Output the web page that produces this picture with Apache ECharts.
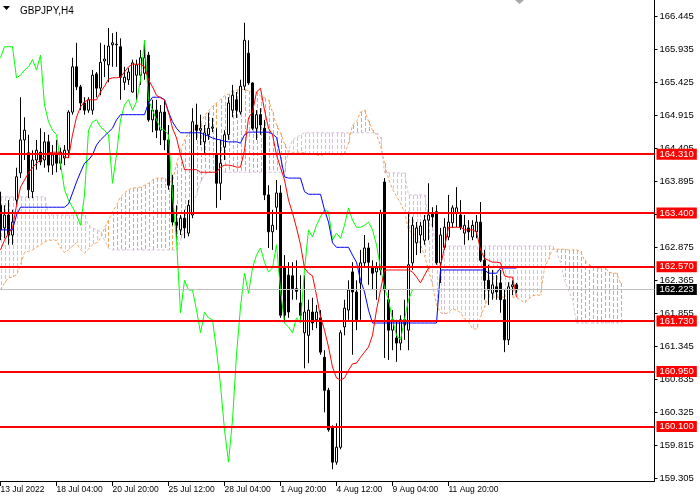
<!DOCTYPE html>
<html><head><meta charset="utf-8">
<script src="https://cdn.jsdelivr.net/npm/echarts@6/dist/echarts.min.js"></script>
<style>html,body{margin:0;padding:0;background:#fff}#c{width:700px;height:500px}</style>
</head><body><div id="c"></div>
<script>
const chartTitle = 'GBPJPY,H4';
const xLabelIdx = [0,14,28,42,56,70,84,98,112];
const xLabels = ['13 Jul 2022','18 Jul 04:00','20 Jul 20:00','25 Jul 12:00','28 Jul 04:00','1 Aug 20:00','4 Aug 12:00','9 Aug 04:00','11 Aug 20:00'];
const yTicks = [159.305,159.815,160.325,160.835,161.345,161.855,162.365,162.875,163.385,163.895,164.405,164.915,165.425,165.935,166.445];
const levels = [164.310,163.400,162.570,161.730,160.950,160.100];
const lastPrice = 162.223;

const open = [163.52,163.17,163.37,163.06,163.60,164.02,164.53,164.33,163.73,164.22,
164.34,164.22,164.50,164.14,164.30,164.17,164.25,164.37,164.96,165.66,
165.35,165.10,164.99,164.99,165.55,165.33,165.75,165.69,166.00,166.01,
165.97,165.42,165.46,165.27,165.53,165.53,165.56,165.84,164.84,164.99,
164.68,164.96,164.53,163.83,163.26,163.14,163.32,163.09,163.37,164.76,
164.68,164.50,164.61,164.71,164.30,163.86,164.42,164.61,164.99,165.15,
164.96,165.36,165.87,165.41,164.71,164.92,164.71,163.68,163.11,163.49,
163.71,162.57,162.44,162.43,162.23,162.01,161.55,161.51,161.87,161.75,
161.78,161.17,160.66,160.09,159.55,159.78,161.64,161.90,162.49,162.18,
162.32,162.63,162.86,162.55,162.49,162.52,163.88,162.06,161.59,161.47,
161.39,161.75,161.59,162.63,162.94,163.06,162.98,163.29,163.40,163.42,
162.63,162.87,163.03,163.25,163.40,163.37,163.09,163.17,163.03,163.11,
163.26,162.67,162.36,162.16,162.26,162.32,162.06,161.44,162.26,162.29];
const close = [163.14,163.37,163.06,163.26,163.96,164.53,164.68,163.76,164.22,164.37,
164.19,164.50,164.14,164.30,164.17,164.34,164.37,164.96,165.66,165.35,
165.10,164.99,165.15,165.53,165.33,165.73,165.78,165.98,166.03,166.00,
165.50,165.50,165.58,165.72,165.69,165.80,165.80,164.84,164.99,164.68,
164.96,164.53,163.83,163.26,163.21,163.32,163.17,163.52,164.81,164.68,
164.71,164.64,164.71,164.73,163.86,164.17,164.61,165.10,165.22,164.99,
165.36,166.07,165.41,164.71,164.92,164.76,163.68,163.11,163.21,163.71,
161.82,161.82,161.87,162.23,162.19,161.82,161.87,161.90,161.70,161.87,
161.25,160.66,160.05,159.55,159.78,161.55,161.93,162.21,162.18,161.75,
162.63,162.86,162.64,162.47,162.55,163.40,162.21,161.59,161.75,161.39,
161.75,161.67,162.60,163.21,163.17,163.20,163.29,163.37,163.34,162.63,
163.06,163.18,163.26,163.48,163.48,163.18,163.21,163.11,163.21,163.26,
162.67,162.36,162.21,162.29,162.18,162.06,161.44,162.26,162.29,162.223];
const low = [162.98,163.01,162.91,162.91,163.52,163.94,164.22,163.63,163.63,164.07,
164.14,164.10,164.03,163.99,164.03,164.07,164.14,164.25,164.92,165.30,
164.99,164.92,164.95,164.92,165.19,165.22,165.50,165.42,165.66,165.66,
165.15,165.30,165.38,165.26,165.15,165.38,165.46,164.81,164.65,164.56,
164.45,164.37,163.76,163.21,162.98,163.06,163.01,163.04,163.32,164.53,
164.45,164.33,164.53,164.65,163.48,163.60,164.22,164.53,164.88,164.87,
164.92,165.30,165.38,164.68,164.53,164.61,163.60,162.86,162.83,163.14,
161.78,161.70,161.78,162.06,162.06,161.75,161.00,161.08,161.59,161.62,
161.21,160.32,160.02,159.44,159.51,159.75,161.51,161.75,161.21,161.59,
161.75,162.55,162.29,162.21,162.06,162.44,161.16,161.13,161.28,161.10,
161.28,161.44,161.28,162.52,162.75,162.78,162.91,162.98,163.18,162.60,
162.32,162.83,162.98,163.17,163.18,163.14,162.91,162.98,162.98,163.01,
162.64,162.06,161.98,162.06,162.06,161.86,161.25,161.36,162.13,162.16];
const high = [163.73,163.52,163.60,163.45,164.10,165.19,164.88,164.61,164.37,164.53,
164.71,164.65,164.61,164.45,164.53,164.41,164.45,164.99,165.80,166.03,
165.38,165.19,165.19,165.61,165.58,166.03,166.00,166.26,166.18,166.20,
166.10,165.66,165.64,165.77,165.77,165.92,166.07,165.89,165.15,165.15,
165.07,165.15,164.76,163.99,163.52,163.37,163.45,163.60,165.02,165.09,
164.92,164.76,164.95,164.87,164.71,164.53,164.68,165.19,165.38,165.27,
165.46,166.34,166.07,165.42,164.99,165.02,164.84,163.83,163.45,163.91,
163.83,162.75,162.64,162.64,162.67,162.44,162.44,162.06,162.09,161.98,
161.90,161.28,160.70,160.12,160.15,161.59,162.06,162.36,162.64,162.36,
162.83,163.06,162.94,162.67,162.64,163.45,163.94,162.21,161.90,161.75,
161.82,162.06,163.42,163.34,163.26,163.26,163.37,163.86,163.49,163.52,
163.17,163.32,163.68,163.52,163.80,163.60,163.37,163.29,163.29,163.37,
163.57,162.83,162.60,162.52,162.44,162.52,162.21,162.33,162.36,162.32];

const tenkan = [162.83,162.98,163.09,163.17,163.52,163.80,163.91,164.02,164.10,164.17,
164.22,164.27,164.33,164.34,164.34,164.34,164.27,164.25,164.61,164.88,
165.04,165.12,165.15,165.15,165.15,165.27,165.36,165.47,165.49,165.49,
165.50,165.58,165.66,165.70,165.70,165.70,165.66,165.46,165.35,165.22,
165.18,165.15,164.96,164.71,164.56,164.30,164.07,164.07,164.07,164.07,
164.03,164.03,164.03,164.03,164.03,164.11,164.14,164.14,164.13,164.11,
164.11,164.37,164.87,164.96,165.27,165.33,164.99,164.71,164.61,164.30,
164.10,163.91,163.60,163.40,163.17,162.91,162.55,162.47,162.43,162.13,
161.79,161.59,161.33,161.02,160.85,160.82,160.85,160.97,161.07,161.08,
161.17,161.25,161.33,161.51,161.90,162.21,162.52,162.52,162.52,162.52,
162.52,162.52,162.52,162.49,162.41,162.32,162.44,162.55,162.57,162.57,
162.58,162.87,163.18,163.18,163.18,163.18,163.14,163.14,163.14,163.11,
162.83,162.70,162.67,162.64,162.64,162.63,162.43,162.41,162.41,162.10];
const kijun = [163.14,163.14,163.14,163.14,163.37,163.49,163.49,163.49,163.49,163.49,
163.49,163.49,163.49,163.49,163.49,163.49,163.49,163.54,163.71,163.88,
164.03,164.17,164.22,164.30,164.45,164.53,164.59,164.65,164.71,164.84,
164.92,164.92,164.92,164.92,164.92,164.92,164.92,165.10,165.19,165.19,
165.19,165.15,164.96,164.81,164.71,164.64,164.64,164.64,164.64,164.64,
164.64,164.61,164.59,164.56,164.54,164.53,164.51,164.50,164.50,164.50,
164.48,164.61,164.65,164.65,164.65,164.65,164.65,164.65,164.62,164.57,
164.27,163.96,163.94,163.94,163.94,163.94,163.73,163.69,163.69,163.69,
163.69,163.45,163.26,162.94,162.87,162.87,162.87,162.87,162.75,162.64,
162.36,162.18,161.90,161.70,161.70,161.70,161.70,161.70,161.70,161.70,
161.70,161.70,161.70,161.70,161.70,161.70,161.70,161.70,161.70,161.70,
162.52,162.52,162.52,162.52,162.52,162.52,162.52,162.52,162.52,162.52,
162.52,162.52,162.47,162.47,162.47,162.55,162.55,162.55,162.55,162.55];
const chikou = [165.80,165.97,165.97,165.97,165.49,165.53,165.61,165.66,165.77,165.61,
165.84,165.07,164.81,164.68,164.61,164.17,163.76,163.60,163.49,163.37,
163.21,163.68,164.68,164.81,164.84,164.73,164.68,164.61,163.86,164.30,
164.84,165.07,165.15,164.99,165.12,165.46,166.07,165.15,164.99,164.84,
164.71,164.68,164.61,163.68,162.98,161.86,162.36,162.21,162.21,161.90,
161.55,161.87,161.78,161.75,161.28,160.74,160.05,159.55,160.20,161.21,
161.95,162.47,162.16,162.55,162.75,162.86,162.64,162.49,162.55,162.91,
162.21,161.70,161.64,161.55,161.78,161.70,162.52,163.14,163.03,163.21,
163.34,163.45,163.42,162.98,163.09,163.01,163.21,163.48,163.29,163.18,
163.18,163.21,163.26,163.14,162.91,162.55,162.24,162.06,161.75,161.51,
161.44,161.75,162.06,162.21];
const spanA = [162.21,162.32,162.40,162.41,162.44,162.60,162.79,162.81,162.83,162.87,
162.91,162.95,162.98,162.98,162.98,162.86,162.79,162.83,162.89,162.94,
162.83,162.78,162.84,162.91,162.94,163.01,163.17,163.29,163.42,163.52,
163.65,163.71,163.76,163.79,163.79,163.80,163.83,163.86,163.91,163.94,
163.94,163.94,163.88,163.89,164.16,164.37,164.53,164.64,164.68,164.71,
164.79,164.90,164.98,165.05,165.10,165.16,165.21,165.24,165.29,165.30,
165.31,165.31,165.29,165.27,165.27,165.21,165.18,165.15,164.96,164.76,
164.64,164.47,164.34,164.34,164.34,164.34,164.33,164.31,164.31,164.30,
164.28,164.31,164.33,164.31,164.31,164.30,164.30,164.48,164.76,164.81,
164.96,164.99,164.82,164.68,164.61,164.44,164.17,163.93,163.77,163.66,
163.55,163.42,163.14,163.08,163.06,162.91,162.74,162.52,162.29,161.98,
161.86,161.84,161.86,161.92,161.90,161.86,161.76,161.72,161.61,161.61,
161.79,161.95,162.10,162.10,162.10,162.10,162.10,162.10,162.10,162.09,
162.06,162.01,162.07,162.12,162.13,162.13,162.55,162.69,162.84,162.84,
162.84,162.84,162.83,162.83,162.83,162.81,162.67,162.61,162.57,162.55,
162.55,162.58,162.49,162.47,162.47,162.32];
const spanB = [163.65,163.65,163.65,163.65,163.65,163.65,163.65,163.65,163.65,163.65,
163.65,163.65,163.37,163.37,163.37,163.37,163.37,163.37,163.37,163.37,
163.37,163.37,163.21,163.17,163.14,163.11,162.98,162.86,162.83,162.83,
162.83,162.83,162.83,162.83,162.83,162.83,162.83,162.83,162.83,162.83,
162.83,162.83,162.83,162.83,162.83,162.98,163.17,163.37,163.55,163.68,
163.88,163.99,164.03,164.03,164.03,164.03,164.03,164.03,164.03,164.03,
164.03,164.03,164.03,164.03,164.03,164.03,164.03,164.03,164.03,164.03,
164.03,164.03,164.37,164.53,164.57,164.61,164.64,164.64,164.64,164.64,
164.64,164.64,164.64,164.64,164.64,164.64,164.64,164.64,164.64,164.64,
164.64,164.64,164.64,164.64,164.64,164.57,164.02,164.02,164.02,164.02,
164.02,164.02,163.68,163.68,163.68,163.68,163.68,163.34,163.18,162.89,
162.89,162.89,162.89,162.89,162.89,162.89,162.89,162.89,162.89,162.89,
162.89,162.89,162.89,162.89,162.89,162.89,162.89,162.89,162.89,162.89,
162.89,162.89,162.89,162.89,162.89,162.89,162.89,162.89,162.89,162.80,
162.64,162.36,162.21,162.06,161.70,161.70,161.70,161.70,161.70,161.70,
161.70,161.70,161.70,161.70,161.70,161.70];

const slotCount = 164;
const categories = [];
for (let i = 0; i < slotCount; i++) categories.push('');
xLabelIdx.forEach((k, j) => { categories[k] = xLabels[j]; });

const candles = open.map((o, i) => [o, close[i], low[i], high[i]]);
const cloudUp = [], cloudDown = [];
spanA.forEach((a, i) => { (a > spanB[i] ? cloudUp : cloudDown).push([i, a, spanB[i]]); });

const FONT = 'Liberation Sans';
const ORANGE = '#F4A460';
const THISTLE = '#D8BFD8';

function makeCloudRender(col) {
  return function (params, api) {
    const i = api.value(0), a = api.value(1), b = api.value(2);
    const p1 = api.coord([i, a]), p2 = api.coord([i, b]);
    const x = Math.round(p1[0]);
    const yTop = Math.round(Math.min(p1[1], p2[1]));
    const yBot = Math.round(Math.max(p1[1], p2[1]));
    const kids = [];
    for (let y = yTop; y < yBot; y += 6) {
      kids.push({type: 'rect', shape: {x: x, y: y, width: 1, height: Math.min(4, yBot - y)},
        style: {fill: col, stroke: col, lineWidth: 0}});
    }
    return {type: 'group', children: kids};
  };
}

const chart = echarts.init(document.getElementById('c'), null, {renderer: 'canvas'});
chart.setOption({
  animation: false,
  backgroundColor: '#ffffff',
  title: {text: chartTitle, left: 15, top: 1, textStyle: {fontSize: 10, fontWeight: 'normal', color: '#000', fontFamily: FONT}},
  graphic: [
    {type: 'polygon', shape: {points: [[3, 6], [10, 6], [6.5, 10]]}, style: {fill: '#000'}, silent: true},
    {type: 'polygon', shape: {points: [[515, 0], [524, 0], [519.5, 4]]}, style: {fill: '#a8a8a8'}, silent: true, z: 100}
  ],
  grid: {left: -1.5, right: 45.5, top: 0, bottom: 19, containLabel: false, outerBoundsMode: 'none'},
  xAxis: {
    type: 'category', data: categories, boundaryGap: true,
    axisLine: {show: true, lineStyle: {color: '#000', width: 1}},
    axisTick: {show: true, alignWithLabel: true, length: 5, interval: (i) => xLabelIdx.indexOf(i) >= 0, lineStyle: {color: '#000'}},
    axisLabel: {interval: (i) => xLabelIdx.indexOf(i) >= 0, align: 'left', fontSize: 8.5, color: '#000', margin: 4, fontFamily: FONT},
    splitLine: {show: false}
  },
  yAxis: {
    type: 'value', position: 'right', min: 159.2586, max: 166.6923,
    axisLine: {show: true, lineStyle: {color: '#000', width: 1}},
    axisTick: {show: true, length: 3, customValues: yTicks, lineStyle: {color: '#000'}},
    axisLabel: {customValues: yTicks, formatter: (v) => v.toFixed(3), color: '#000', fontSize: 9.5, fontFamily: FONT, margin: 5},
    splitLine: {show: false}
  },
  series: [
    {type: 'custom', z: 1, silent: true, clip: true, data: cloudUp, encode: {x: 0, y: [1, 2]},
     itemStyle: {color: ORANGE, borderColor: ORANGE, opacity: 1}, renderItem: makeCloudRender(ORANGE)},
    {type: 'custom', z: 1, silent: true, clip: true, data: cloudDown, encode: {x: 0, y: [1, 2]},
     itemStyle: {color: THISTLE, borderColor: THISTLE, opacity: 1}, renderItem: makeCloudRender(THISTLE)},
    {type: 'line', data: spanA, symbol: 'none', z: 1, silent: true, lineStyle: {color: ORANGE, width: 1, type: [3, 2]}},
    {type: 'line', data: spanB, symbol: 'none', z: 1, silent: true, lineStyle: {color: THISTLE, width: 1, type: [3, 2]}},
    {
      type: 'candlestick', data: candles, barWidth: 3, z: 3, silent: true,
      itemStyle: {color: '#ffffff', color0: '#000000', borderColor: '#000000', borderColor0: '#000000', borderWidth: 1}
    },
    {type: 'line', data: chikou, symbol: 'none', z: 4, silent: true, lineStyle: {color: '#00FF00', width: 1}},
    {type: 'line', data: kijun, symbol: 'none', z: 4, silent: true, lineStyle: {color: '#0000FF', width: 1}},
    {type: 'line', data: tenkan, symbol: 'none', z: 4, silent: true, lineStyle: {color: '#FF0000', width: 1}},
    {
      type: 'line', data: [], z: 6, silent: true,
      markLine: {
        silent: true, symbol: ['none', 'none'], animation: false,
        label: {show: true, position: 'end', distance: 2,
          color: '#fff', backgroundColor: '#FF0000', padding: [1, 3, 0, 3], fontSize: 9.5, lineHeight: 10, fontFamily: FONT},
        lineStyle: {color: '#FF0000', width: 2, type: 'solid'},
        emphasis: {disabled: true},
        data: [{yAxis: lastPrice, lineStyle: {color: '#C0C0C0', width: 1, type: 'solid'},
                label: {backgroundColor: '#000000', color: '#fff', formatter: lastPrice.toFixed(3)}}]
          .concat(levels.map((v) => ({yAxis: v, label: {formatter: v.toFixed(3)}})))
      }
    }
  ]
});
</script></body></html>
